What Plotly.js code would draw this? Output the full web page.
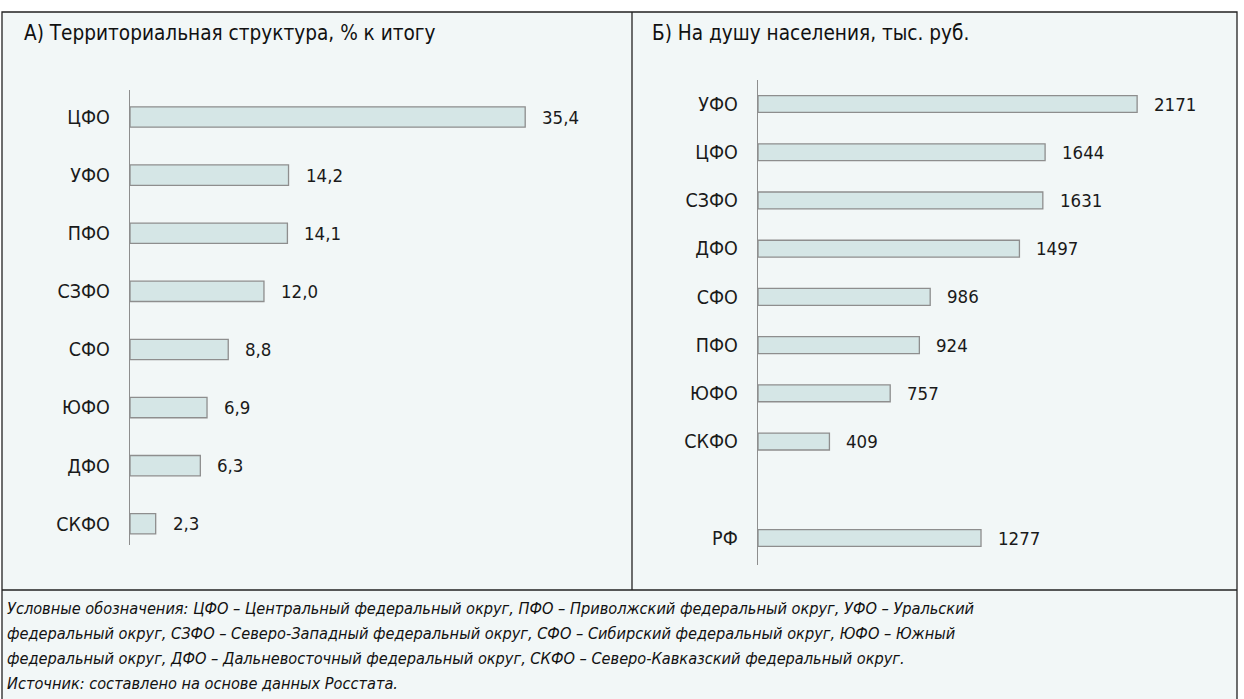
<!DOCTYPE html>
<html><head><meta charset="utf-8">
<script src="https://cdn.plot.ly/plotly-3.0.1.min.js"></script>
<style>html,body{margin:0;padding:0;background:#fff}</style>
</head><body>
<div id="chart" style="width:1244px;height:699px"></div>
<script>
// Panel A: territorial structure, % of total
const catsA = ["ЦФО","УФО","ПФО","СЗФО","СФО","ЮФО","ДФО","СКФО"];
const valsA = [35.4,14.2,14.1,12.0,8.8,6.9,6.3,2.3];
// Panel B: per capita, thousand rubles
const catsB = ["УФО","ЦФО","СЗФО","ДФО","СФО","ПФО","ЮФО","СКФО","\u00a0","РФ"];
const valsB = [2171,1644,1631,1497,986,924,757,409,null,1277];
const titleA = "А) Территориальная структура, % к итогу";
const titleB = "Б) На душу населения, тыс. руб.";
const notes = [
 "Условные обозначения: ЦФО – Центральный федеральный округ, ПФО – Приволжский федеральный округ, УФО – Уральский",
 "федеральный округ, СЗФО – Северо-Западный федеральный округ, СФО – Сибирский федеральный округ, ЮФО – Южный",
 "федеральный округ, ДФО – Дальневосточный федеральный округ, СКФО – Северо-Кавказский федеральный округ.",
 "Источник: составлено на основе данных Росстата."
];

const W=1244,H=699;
const px=x=>x/W, py=y=>1-y/H;
const FONT="'Liberation Sans Narrow','Arial Narrow','DejaVu Sans Condensed',sans-serif";
const barStyle={color:"#d5e6e6",line:{color:"#8e8e8e",width:1.3}};

const traces=[
 {type:"bar",orientation:"h",x:valsA,y:catsA,xaxis:"x",yaxis:"y",marker:barStyle,width:0.35,hoverinfo:"x+y"},
 {type:"bar",orientation:"h",x:valsB,y:catsB,xaxis:"x2",yaxis:"y2",marker:barStyle,width:0.35,hoverinfo:"x+y"}
];

const ann=[];
catsA.forEach((c,i)=>ann.push({xref:"x",yref:"y",x:valsA[i],y:c,text:valsA[i].toFixed(1).replace(".",","),
  showarrow:false,xanchor:"left",xshift:15,font:{size:18.5,color:"#1a1a1a",family:FONT}}));
catsB.forEach((c,i)=>{ if(valsB[i]!==null) ann.push({xref:"x2",yref:"y2",x:valsB[i],y:c,text:String(valsB[i]),
  showarrow:false,xanchor:"left",xshift:15,font:{size:18.5,color:"#1a1a1a",family:FONT}});});
ann.push({xref:"paper",yref:"paper",x:px(22),y:py(33),text:titleA,showarrow:false,xanchor:"left",yanchor:"middle",
  font:{size:20.6,color:"#111",family:FONT}});
ann.push({xref:"paper",yref:"paper",x:px(650),y:py(33),text:titleB,showarrow:false,xanchor:"left",yanchor:"middle",
  font:{size:20.6,color:"#111",family:FONT}});
notes.forEach((t,i)=>ann.push({xref:"paper",yref:"paper",x:px(5),y:py(608+i*25.3),text:"<i>"+t+"</i>",showarrow:false,
  xanchor:"left",yanchor:"middle",font:{size:16.2,color:"#111",family:FONT}}));

const shapes=[
 {type:"rect",xref:"paper",yref:"paper",x0:px(2),x1:px(1237),y0:py(720),y1:py(12),fillcolor:"#f2f7f7",line:{color:"#222",width:1.3},layer:"below"},
 {type:"line",xref:"paper",yref:"paper",x0:px(632),x1:px(632),y0:py(12),y1:py(590),line:{color:"#222",width:1.3}},
 {type:"line",xref:"paper",yref:"paper",x0:px(2),x1:px(1237),y0:py(590),y1:py(590),line:{color:"#222",width:1.3}}
];

const yaxBase={type:"category",showline:true,linecolor:"#8e8e8e",linewidth:1.3,showgrid:false,zeroline:false,
  ticks:"outside",ticklen:15,tickcolor:"rgba(0,0,0,0)",tickfont:{size:19.5,color:"#1a1a1a",family:FONT},fixedrange:true};
const layout={
 width:W,height:H,margin:{l:0,r:0,t:0,b:0},paper_bgcolor:"#ffffff",plot_bgcolor:"rgba(0,0,0,0)",
 showlegend:false,bargap:0,
 xaxis:{domain:[px(130),px(600)],range:[0,42.1],visible:false,fixedrange:true},
 yaxis:Object.assign({},yaxBase,{domain:[py(545),py(90)],anchor:"x",categoryorder:"array",categoryarray:catsA,range:[7.365,-0.465]}),
 xaxis2:{domain:[px(758),px(1200)],range:[0,2531],visible:false,fixedrange:true,anchor:"y2"},
 yaxis2:Object.assign({},yaxBase,{domain:[py(565),py(80)],anchor:"x2",categoryorder:"array",categoryarray:catsB,range:[9.56,-0.498]}),
 annotations:ann,shapes:shapes
};
Plotly.newPlot("chart",traces,layout,{displayModeBar:false,staticPlot:true});
</script>
</body></html>
